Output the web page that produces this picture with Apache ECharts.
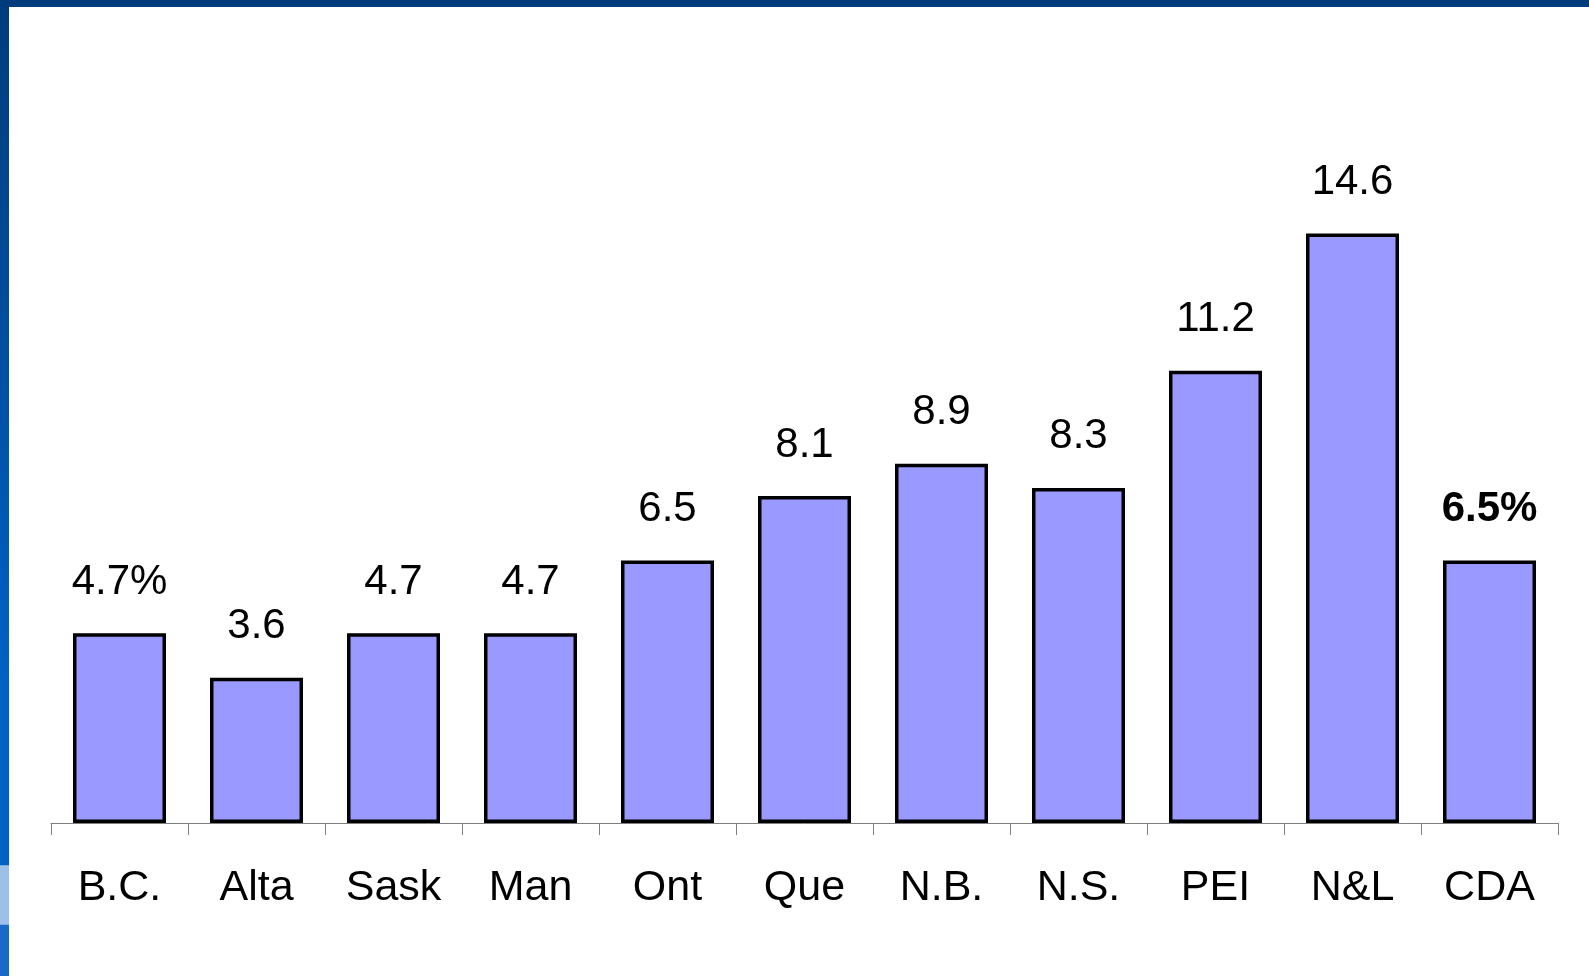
<!DOCTYPE html>
<html>
<head>
<meta charset="utf-8">
<script src="https://cdn.jsdelivr.net/npm/echarts@6/dist/echarts.min.js"></script>
<style>
  html, body { margin: 0; padding: 0; background: #fff; }
  #c { width: 1589px; height: 976px; }
</style>
</head>
<body>
<div id="c"></div>
<script>
var provinces = ['B.C.', 'Alta', 'Sask', 'Man', 'Ont', 'Que', 'N.B.', 'N.S.', 'PEI', 'N&L', 'CDA'];
var rates = [4.7, 3.6, 4.7, 4.7, 6.5, 8.1, 8.9, 8.3, 11.2, 14.6, 6.5];
var rateLabels = ['4.7%', '3.6', '4.7', '4.7', '6.5', '8.1', '8.9', '8.3', '11.2', '14.6', '6.5%'];

var font = '"Liberation Sans", Arial, sans-serif';

var chart = echarts.init(document.getElementById('c'));

var barData = rates.map(function (v, i) {
  var last = i === rates.length - 1;
  return {
    value: v,
    label: { formatter: rateLabels[i], fontWeight: last ? 'bold' : 'normal' }
  };
});

chart.setOption({
  backgroundColor: '#ffffff',
  animation: false,
  grid: { left: 51, right: 31, top: 177, bottom: 153 },
  xAxis: {
    type: 'category',
    data: provinces,
    axisLine: { lineStyle: { color: '#7f7f7f', width: 1 } },
    axisTick: { show: true, length: 12, lineStyle: { color: '#7f7f7f' } },
    axisLabel: { color: '#000', fontSize: 43, fontFamily: font, margin: 44, interval: 0 }
  },
  yAxis: {
    type: 'value',
    min: 0,
    max: 16,
    show: false,
    splitLine: { show: false }
  },
  series: [{
    type: 'bar',
    data: barData,
    barWidth: 93,
    itemStyle: { color: '#9999ff', borderColor: '#000', borderWidth: 3.5 },
    label: {
      show: true,
      position: 'top',
      distance: 30,
      color: '#000',
      fontSize: 42,
      fontFamily: font
    }
  }],
  graphic: [
    { type: 'rect', left: 0, top: 0, shape: { width: 1589, height: 7 }, style: { fill: '#003c7c' } },
    {
      type: 'rect', left: 0, top: 0, shape: { width: 9, height: 976 },
      style: {
        fill: new echarts.graphic.LinearGradient(0, 0, 0, 1, [
          { offset: 0, color: '#003c7c' },
          { offset: 0.7, color: '#0062c4' },
          { offset: 0.886, color: '#0062c4' },
          { offset: 0.887, color: '#9cc0e8' },
          { offset: 0.947, color: '#9cc0e8' },
          { offset: 0.948, color: '#1a68c8' },
          { offset: 1, color: '#1a68c8' }
        ])
      }
    }
  ]
});
</script>
</body>
</html>
